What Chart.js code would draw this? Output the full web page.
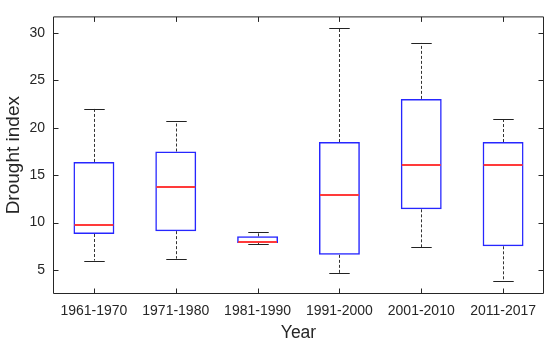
<!DOCTYPE html>
<html>
<head>
<meta charset="utf-8">
<script src="https://cdn.jsdelivr.net/npm/chart.js@4/dist/chart.umd.min.js"></script>
<style>
    html, body { margin: 0; padding: 0; background: #fff; }
    #wrap { width: 550px; height: 346px; }
</style>
</head>
<body>
<div id="wrap"><canvas id="boxChart"></canvas></div>
<script>
// Decades on the x axis
const periods = ['1961-1970', '1971-1980', '1981-1990', '1991-2000', '2001-2010', '2011-2017'];

// Box plot statistics
const whiskerLow = [6.0, 6.2, 7.7, 4.7, 7.4, 3.8];
const quart1 = [8.8, 9.1, 7.85, 6.6, 11.4, 7.5];
const medians = [9.8, 13.8, 8.0, 12.9, 16.1, 16.05];
const quart3 = [16.4, 17.5, 8.55, 18.5, 23.05, 18.5];
const whiskerHigh = [22.0, 20.7, 9.05, 30.5, 28.95, 20.9];

const yTicks = [5, 10, 15, 20, 25, 30];

const axisColor = '#262626';
const fontFamily = '"Liberation Sans", Arial, Helvetica, sans-serif';

// medians, whiskers, caps and the MATLAB-style frame
const boxExtras = {
    id: 'boxExtras',
    afterDatasetsDraw(chart) {
        const { ctx, scales: { x, y } } = chart;
        const step = x.getPixelForValue(1) - x.getPixelForValue(0);
        const boxHalf = step * 0.25 - 1;
        const capHalf = step * 0.125;

        ctx.save();
        ctx.lineWidth = 1;

        // dashed whiskers
        ctx.strokeStyle = '#333333';
        ctx.setLineDash([3, 2]);
        ctx.beginPath();
        periods.forEach((p, i) => {
            const cx = Math.round(x.getPixelForValue(i)) + 0.5;
            ctx.moveTo(cx, y.getPixelForValue(quart3[i]));
            ctx.lineTo(cx, y.getPixelForValue(whiskerHigh[i]));
            ctx.moveTo(cx, y.getPixelForValue(quart1[i]));
            ctx.lineTo(cx, y.getPixelForValue(whiskerLow[i]));
        });
        ctx.stroke();

        // caps
        ctx.setLineDash([]);
        ctx.strokeStyle = '#222222';
        ctx.beginPath();
        periods.forEach((p, i) => {
            const cx = Math.round(x.getPixelForValue(i)) + 0.5;
            const hy = Math.round(y.getPixelForValue(whiskerHigh[i])) + 0.5;
            const ly = Math.round(y.getPixelForValue(whiskerLow[i])) + 0.5;
            ctx.moveTo(cx - capHalf, hy);
            ctx.lineTo(cx + capHalf, hy);
            ctx.moveTo(cx - capHalf, ly);
            ctx.lineTo(cx + capHalf, ly);
        });
        ctx.stroke();

        // medians
        ctx.strokeStyle = '#ff3a3a';
        ctx.lineWidth = 1.8;
        ctx.beginPath();
        periods.forEach((p, i) => {
            const cx = x.getPixelForValue(i);
            const my = Math.round(y.getPixelForValue(medians[i]));
            ctx.moveTo(cx - boxHalf, my);
            ctx.lineTo(cx + boxHalf, my);
        });
        ctx.stroke();
        ctx.restore();
    },
    afterDraw(chart) {
        const { ctx, chartArea: a, scales: { x, y } } = chart;
        const L = a.left + 0.5, R = a.right - 0.5, T = a.top + 0.5, B = a.bottom - 0.5;
        const tick = 5;
        ctx.save();
        ctx.strokeStyle = axisColor;
        ctx.lineWidth = 1;
        ctx.beginPath();
        ctx.rect(L, T, R - L, B - T);
        periods.forEach((p, i) => {
            const px = Math.round(x.getPixelForValue(i)) + 0.5;
            ctx.moveTo(px, B);
            ctx.lineTo(px, B - tick);
            ctx.moveTo(px, T);
            ctx.lineTo(px, T + tick);
        });
        yTicks.forEach(v => {
            const py = Math.round(y.getPixelForValue(v)) + 0.5;
            ctx.moveTo(L, py);
            ctx.lineTo(L + tick, py);
            ctx.moveTo(R, py);
            ctx.lineTo(R - tick, py);
        });
        ctx.stroke();
        ctx.restore();
    }
};

new Chart(document.getElementById('boxChart'), {
    type: 'bar',
    data: {
        labels: periods,
        datasets: [{
            label: 'IQR',
            data: quart1.map((q, i) => [q, quart3[i]]),
            backgroundColor: 'rgba(0,0,0,0)',
            borderColor: '#2626ff',
            borderWidth: 1.5,
            borderSkipped: false,
            categoryPercentage: 1,
            barPercentage: 0.5
        }]
    },
    options: {
        responsive: true,
        maintainAspectRatio: false,
        animation: false,
        layout: { padding: { top: 5, right: 6, left: 0, bottom: 0 } },
        plugins: {
            legend: { display: false },
            tooltip: { enabled: false }
        },
        scales: {
            x: {
                offset: true,
                grid: { display: false, drawTicks: false },
                border: { display: false },
                ticks: {
                    color: axisColor,
                    padding: 9,
                    maxRotation: 0,
                    font: { family: fontFamily, size: 14 }
                },
                title: {
                    display: true,
                    text: 'Year',
                    color: axisColor,
                    padding: { top: 0, bottom: 2 },
                    font: { family: fontFamily, size: 17.5, lineHeight: 1.2 }
                },
                afterFit(scale) { scale.height = 52; }
            },
            y: {
                min: 2.47,
                max: 31.75,
                grid: { display: false, drawTicks: false },
                border: { display: false },
                afterBuildTicks(scale) {
                    scale.ticks = yTicks.map(v => ({ value: v }));
                },
                ticks: {
                    color: axisColor,
                    padding: 8,
                    font: { family: fontFamily, size: 14 }
                },
                title: {
                    display: true,
                    text: 'Drought index',
                    color: axisColor,
                    padding: { top: 2, bottom: 0 },
                    font: { family: fontFamily, size: 19, lineHeight: 1.2 }
                },
                afterFit(scale) { scale.width = 53; }
            }
        }
    },
    plugins: [boxExtras]
});
</script>
</body>
</html>
